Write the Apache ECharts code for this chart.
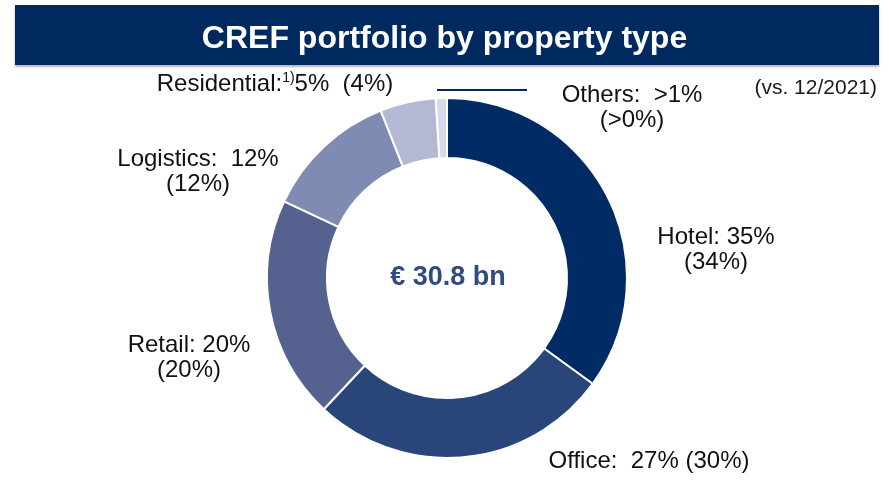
<!DOCTYPE html>
<html>
<head>
<meta charset="utf-8">
<script src="https://cdn.jsdelivr.net/npm/echarts@6/dist/echarts.min.js"></script>
<style>
	html, body { margin: 0; padding: 0; background: #fff; }
	#chart { width: 889px; height: 490px; }
</style>
</head>
<body>
<div id="chart"></div>
<script>
	const categories = ['Hotel', 'Office', 'Retail', 'Logistics', 'Residential', 'Others']
	const shares = [35, 27, 20, 12, 5, 1]
	const shareText = ['35%', '27%', '20%', '12%', '5%', '>1%']
	const prevText = ['(34%)', '(30%)', '(20%)', '(12%)', '(4%)', '(>0%)']
	const colors = ['#002b65', '#29457a', '#55628f', '#7f8bb2', '#b3b9d5', '#d5d9e9']
	const totalText = '€ 30.8 bn'
	const compareText = '(vs. 12/2021)'

	// label centres, by slice
	const labelPos = [[716, 250], [649, 461], [189, 358], [198, 172], [275, 84], [632, 108]]

	const fontFamily = '"Liberation Sans", Arial, sans-serif'

	const formatLabel = (p) => {
		const i = p.dataIndex
		const name = categories[i]
		if (name === 'Office') return name + ':  ' + shareText[i] + ' ' + prevText[i]
		if (name === 'Residential') return name + ':{sup|1)}' + shareText[i] + '  ' + prevText[i]
		if (name === 'Hotel' || name === 'Retail') return name + ': ' + shareText[i] + '\n' + prevText[i]
		return name + ':  ' + shareText[i] + '\n' + prevText[i]
	}

	const chart = echarts.init(document.getElementById('chart'))
	const option = {
		animation: false,
		title: {
			text: 'CREF portfolio by property type',
			left: 'center',
			top: 18,
			textStyle: { color: '#fff', fontSize: 32, fontWeight: 'bold', fontFamily: fontFamily }
		},
		graphic: [
			{
				type: 'rect',
				z: 0,
				shape: { x: 15, y: 5, width: 864, height: 60 },
				style: { fill: '#002a5f', shadowColor: 'rgba(0,0,0,0.3)', shadowOffsetY: 2, shadowBlur: 2 }
			},
			{
				type: 'line',
				shape: { x1: 437, y1: 90, x2: 527, y2: 90 },
				style: { stroke: '#002b65', lineWidth: 2 }
			},
			{
				type: 'text',
				x: 448,
				y: 278,
				style: {
					text: totalText,
					align: 'center',
					verticalAlign: 'middle',
					fill: '#2f4b80',
					font: 'bold 27px ' + fontFamily
				}
			},
			{
				type: 'text',
				x: 877,
				y: 88,
				style: {
					text: compareText,
					align: 'right',
					verticalAlign: 'middle',
					fill: '#1a1a1a',
					font: '21px ' + fontFamily
				}
			}
		],
		series: [
			{
				type: 'pie',
				center: [447, 278],
				radius: [120, 180],
				startAngle: 90,
				clockwise: true,
				silent: true,
				itemStyle: { borderColor: '#fff', borderWidth: 2 },
				label: {
					show: true,
					formatter: formatLabel,
					color: '#111',
					fontSize: 24,
					lineHeight: 25,
					fontFamily: fontFamily,
					align: 'center',
					rich: {
						sup: { fontSize: 14, verticalAlign: 'top', padding: [0, 0, 10, 0], fontFamily: fontFamily, color: '#111' }
					}
				},
				labelLine: { show: false },
				labelLayout: (params) => ({
					x: labelPos[params.dataIndex][0],
					y: labelPos[params.dataIndex][1],
					align: 'center',
					verticalAlign: 'middle'
				}),
				data: categories.map((name, i) => ({
					name: name,
					value: shares[i],
					itemStyle: { color: colors[i] }
				}))
			}
		]
	}
	chart.setOption(option)
	window.onresize = () => {
		chart.resize()
	}
</script>
</body>
</html>
